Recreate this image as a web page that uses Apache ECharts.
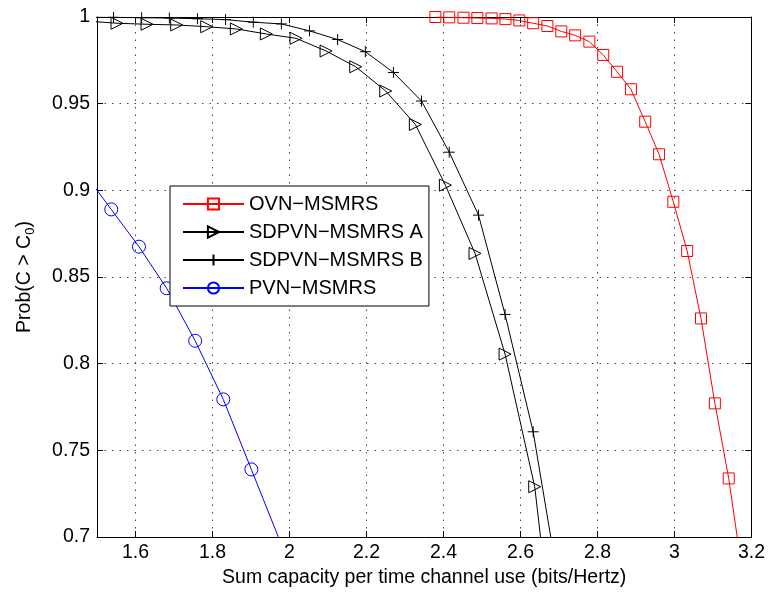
<!DOCTYPE html>
<html><head><meta charset="utf-8">
<script src="https://cdn.jsdelivr.net/npm/echarts@6/dist/echarts.min.js"></script>
<style>html,body{margin:0;padding:0;background:#fff}#c{width:768px;height:593px}</style>
</head><body><div id="c"></div>
<script>
const seriesNames = ['OVN\u2212MSMRS', 'SDPVN\u2212MSMRS A', 'SDPVN\u2212MSMRS B', 'PVN\u2212MSMRS'];
const xTickVals = [1.6, 1.8, 2, 2.2, 2.4, 2.6, 2.8, 3, 3.2];
const yTickVals = [0.7, 0.75, 0.8, 0.85, 0.9, 0.95, 1];

// OVN-MSMRS (red squares)
const ovnX = [2.379, 2.415, 2.452, 2.488, 2.525, 2.561, 2.597, 2.633, 2.670, 2.706, 2.742, 2.779, 2.815, 2.851, 2.887, 2.924, 2.960, 2.997, 3.033, 3.069, 3.105, 3.141];
const ovnY = [1.000, 0.9998, 0.9996, 0.9994, 0.9992, 0.9988, 0.998, 0.9964, 0.9948, 0.9917, 0.9894, 0.9858, 0.9781, 0.9684, 0.9583, 0.9396, 0.9208, 0.8934, 0.865, 0.8261, 0.7771, 0.7338];
const ovnTail = [3.176, 0.68];

// SDPVN-MSMRS A (black triangles)
const sdaX = [1.552, 1.630, 1.707, 1.785, 1.862, 1.940, 2.017, 2.095, 2.172, 2.250, 2.327, 2.405, 2.482, 2.560, 2.637];
const sdaY = [0.9964, 0.9958, 0.9954, 0.9944, 0.9931, 0.9902, 0.9877, 0.9804, 0.9713, 0.9573, 0.938, 0.903, 0.8636, 0.8055, 0.729];
const sdaHead = [1.45, 0.998];
const sdaTail = [2.66, 0.685];

// SDPVN-MSMRS B (black plus)
const sdbX = [1.543, 1.616, 1.688, 1.761, 1.834, 1.906, 1.979, 2.052, 2.125, 2.197, 2.270, 2.343, 2.415, 2.491, 2.560, 2.633];
const sdbY = [0.9998, 0.9996, 0.9994, 0.999, 0.9985, 0.997, 0.996, 0.992, 0.987, 0.980, 0.968, 0.9515, 0.922, 0.8857, 0.8284, 0.7607];
const sdbHead = [1.45, 0.9999];
const sdbTail = [2.69, 0.685];

// PVN-MSMRS (blue circles)
const pvnX = [1.537, 1.609, 1.681, 1.755, 1.828, 1.901];
const pvnY = [0.889, 0.8675, 0.8435, 0.8132, 0.7794, 0.739];
const pvnHead = [1.46, 0.912];
const pvnTail = [1.98, 0.695];

function build(xs, ys, head, tail) {
  const d = [];
  if (head) d.push({ value: head, symbol: 'none' });
  xs.forEach((x, i) => d.push([x, ys[i]]));
  if (tail) d.push({ value: tail, symbol: 'none' });
  return d;
}

const FONT = 'Liberation Sans';
const chart = echarts.init(document.getElementById('c'), null, { renderer: 'canvas' });

const gridLine = { show: true, lineStyle: { color: '#444', width: 1, type: [1.5, 6] } };
const axisLineStyle = { show: true, lineStyle: { color: '#000', width: 1 } };

const option = {
  animation: false,
  backgroundColor: '#fff',
  grid: { left: 97, right: 13, top: 17, bottom: 56, containLabel: false },
  legend: {
    left: 170, top: 186,
    orient: 'vertical',
    itemWidth: 61, itemHeight: 14, itemGap: 8,
    padding: [8, 6, 8, 12],
    backgroundColor: '#fff',
    borderColor: '#000', borderWidth: 1, borderRadius: 0,
    textStyle: { fontFamily: FONT, fontSize: 20, color: '#000', lineHeight: 20 },
    data: seriesNames
  },
  xAxis: [{
    type: 'value', min: 1.5, max: 3.2, position: 'bottom',
    axisLine: axisLineStyle,
    axisTick: { show: true, inside: true, length: 6, lineStyle: { color: '#000' }, customValues: xTickVals },
    axisLabel: { fontFamily: FONT, fontSize: 19.5, color: '#000', margin: 6, customValues: xTickVals },
    splitLine: gridLine,
    name: 'Sum capacity per time channel use (bits/Hertz)',
    nameLocation: 'middle', nameGap: 30,
    nameTextStyle: { fontFamily: FONT, fontSize: 19.5, color: '#000' }
  }, {
    type: 'value', min: 1.5, max: 3.2, position: 'top',
    axisLine: axisLineStyle,
    axisTick: { show: true, inside: true, length: 6, lineStyle: { color: '#000' }, customValues: xTickVals },
    axisLabel: { show: false, customValues: xTickVals },
    splitLine: { show: false }
  }],
  yAxis: [{
    type: 'value', min: 0.7, max: 1, interval: 0.05, position: 'left',
    axisLine: axisLineStyle,
    axisTick: { show: true, inside: true, length: 6, lineStyle: { color: '#000' } },
    axisLabel: { fontFamily: FONT, fontSize: 19.5, color: '#000', margin: 7 },
    splitLine: gridLine,
    name: '{n|Prob(C > C}{s|0}{n|)}',
    nameLocation: 'middle', nameGap: 60, nameRotate: 90,
    nameTextStyle: {
      fontFamily: FONT, fontSize: 19.5, color: '#000',
      rich: {
        n: { fontFamily: FONT, fontSize: 19.5, color: '#000' },
        s: { fontFamily: FONT, fontSize: 13, color: '#000', padding: [12, 0, 0, 0] }
      }
    }
  }, {
    type: 'value', min: 0.7, max: 1, interval: 0.05, position: 'right',
    axisLine: axisLineStyle,
    axisTick: { show: true, inside: true, length: 6, lineStyle: { color: '#000' } },
    axisLabel: { show: false },
    splitLine: { show: false }
  }],
  series: [
    {
      name: seriesNames[0], type: 'line', xAxisIndex: 0, yAxisIndex: 0,
      data: build(ovnX, ovnY, null, ovnTail),
      symbol: 'rect', symbolSize: 11, showAllSymbol: true,
      lineStyle: { color: '#ff0000', width: 1 },
      itemStyle: { color: 'none', borderColor: '#ff0000', borderWidth: 1 },
      z: 4
    },
    {
      name: seriesNames[1], type: 'line',
      data: build(sdaX, sdaY, sdaHead, sdaTail),
      symbol: 'path://M0,0L10,5L0,10Z', symbolSize: [12, 12], showAllSymbol: true,
      lineStyle: { color: '#000', width: 1 },
      itemStyle: { color: 'none', borderColor: '#000', borderWidth: 1 },
      z: 3
    },
    {
      name: seriesNames[2], type: 'line',
      data: build(sdbX, sdbY, sdbHead, sdbTail),
      symbol: 'path://M0,5L10,5M5,0L5,10', symbolSize: 11, showAllSymbol: true,
      lineStyle: { color: '#000', width: 1 },
      itemStyle: { color: 'none', borderColor: '#000', borderWidth: 1 },
      z: 3
    },
    {
      name: seriesNames[3], type: 'line',
      data: build(pvnX, pvnY, pvnHead, pvnTail),
      symbol: 'circle', symbolSize: 13, showAllSymbol: true,
      lineStyle: { color: '#0000ff', width: 1 },
      itemStyle: { color: 'none', borderColor: '#0000ff', borderWidth: 1 },
      z: 3
    }
  ]
};
chart.setOption(option);
</script>
</body></html>
